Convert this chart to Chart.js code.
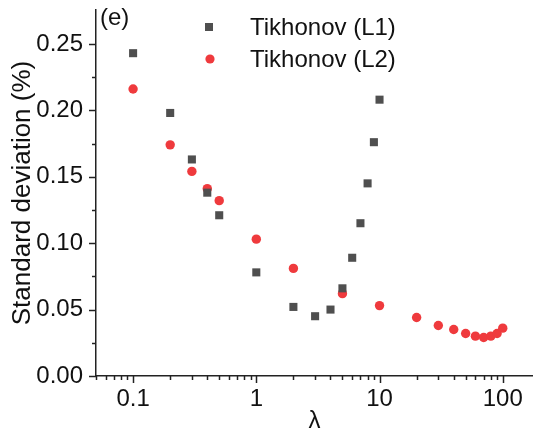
<!DOCTYPE html>
<html>
<head>
<meta charset="utf-8">
<script src="https://cdn.jsdelivr.net/npm/chart.js@4/dist/chart.umd.min.js"></script>
<style>
  html, body { margin: 0; padding: 0; background: #fff; overflow: hidden; }
  #wrap { width: 533px; height: 434px; }
</style>
</head>
<body>
<div id="wrap"><canvas id="sdChart" width="533" height="434"></canvas></div>
<script>
// lambda values and standard deviation (%)
const lambdaL1 = [0.1, 0.2, 0.3, 0.4, 0.5, 1, 2, 3, 4, 5, 6, 7, 8, 9, 10];
const sdL1 = [0.243, 0.198, 0.163, 0.138, 0.121, 0.078, 0.052, 0.045, 0.050, 0.066, 0.089, 0.115, 0.145, 0.176, 0.208];

const lambdaL2 = [0.1, 0.2, 0.3, 0.4, 0.5, 1, 2, 5, 10, 20, 30, 40, 50, 60, 70, 80, 90, 100];
const sdL2 = [0.216, 0.174, 0.154, 0.141, 0.132, 0.103, 0.081, 0.062, 0.053, 0.044, 0.038, 0.035, 0.032, 0.030, 0.029, 0.030, 0.032, 0.036];

const seriesNames = ["Tikhonov (L1)", "Tikhonov (L2)"];
const xTickLabels = [0.1, 1, 10, 100];
const yTickValues = [0, 0.025, 0.05, 0.075, 0.1, 0.125, 0.15, 0.175, 0.2, 0.225, 0.25];
const yMajorTicks = [0, 0.05, 0.1, 0.15, 0.2, 0.25];

const FONT = "'Liberation Sans', Arial, sans-serif";
const FSIZE = 24;
const AXIS = "#222";

const toPoints = (xs, ys) => xs.map((x, i) => ({ x: x, y: ys[i] }));
const isMajorY = (v) => yMajorTicks.some((m) => Math.abs(m - v) < 1e-9);

// outward major/minor tick marks, legend and panel letter
const extras = {
  id: "extras",
  afterDraw(chart) {
    const ctx = chart.ctx;
    const area = chart.chartArea;
    const xs = chart.scales.x;
    const ys = chart.scales.y;
    ctx.save();
    ctx.strokeStyle = AXIS;
    ctx.lineWidth = 1.5;

    // x ticks: every 1..9 x 10^k inside the range
    for (let k = -2; k <= 3; k++) {
      for (let m = 1; m <= 9; m++) {
        const v = m * Math.pow(10, k);
        if (v < xs.min * 0.999 || v > xs.max) continue;
        const px = Math.round(xs.getPixelForValue(v)) + 0.5;
        const len = m === 1 ? 7 : 4;
        ctx.beginPath();
        ctx.moveTo(px, area.bottom);
        ctx.lineTo(px, area.bottom + len);
        ctx.stroke();
      }
    }

    // y ticks
    yTickValues.forEach((v) => {
      const py = Math.round(ys.getPixelForValue(v)) + 0.5;
      const len = isMajorY(v) ? 7 : 4;
      ctx.beginPath();
      ctx.moveTo(area.left, py);
      ctx.lineTo(area.left - len, py);
      ctx.stroke();
    });

    // legend
    ctx.font = FSIZE + "px " + FONT;
    ctx.textBaseline = "middle";
    ctx.textAlign = "left";
    chart.data.datasets.forEach((ds, i) => {
      const ly = 27 + i * 32;
      ctx.fillStyle = ds.backgroundColor;
      if (ds.pointStyle === "rect") {
        ctx.fillRect(205, ly - 4, 8, 8);
      } else {
        ctx.beginPath();
        ctx.arc(210, ly, 4.6, 0, Math.PI * 2);
        ctx.fill();
      }
      ctx.fillStyle = "#111";
      ctx.fillText(ds.label, 250, ly + 1);
    });

    ctx.fillText("(e)", 100, 18);
    ctx.restore();
  },
};

new Chart(document.getElementById("sdChart"), {
  type: "scatter",
  data: {
    datasets: [
      {
        label: seriesNames[0],
        data: toPoints(lambdaL1, sdL1),
        pointStyle: "rect",
        pointRadius: 5.7,
        pointHoverRadius: 5.7,
        backgroundColor: "#4f4f4f",
        borderWidth: 0,
      },
      {
        label: seriesNames[1],
        data: toPoints(lambdaL2, sdL2),
        pointStyle: "circle",
        pointRadius: 4.7,
        pointHoverRadius: 4.7,
        backgroundColor: "#ef3a3d",
        borderWidth: 0,
      },
    ],
  },
  options: {
    responsive: false,
    animation: false,
    layout: {
      autoPadding: false,
      padding: { top: 10, right: 0, left: 0, bottom: 0 },
    },
    plugins: {
      legend: { display: false },
      tooltip: { enabled: false },
    },
    scales: {
      x: {
        type: "logarithmic",
        min: 0.05,
        max: 176,
        afterFit(scale) {
          scale.height = 58;
          scale.paddingLeft = 0;
          scale.paddingRight = 0;
        },
        grid: { display: false, drawTicks: false },
        border: { display: true, color: AXIS, width: 1.5 },
        ticks: {
          autoSkip: false,
          maxRotation: 0,
          padding: 9,
          color: "#111",
          font: { family: FONT, size: FSIZE },
          callback(value) {
            const v = Number(value.toPrecision(6));
            return xTickLabels.includes(v) ? String(v) : "";
          },
        },
        title: {
          display: true,
          text: "λ",
          color: "#111",
          font: { family: FONT, size: FSIZE },
          padding: { top: 0, bottom: -2 },
        },
      },
      y: {
        min: 0,
        max: 0.2755,
        afterBuildTicks(scale) {
          scale.ticks = yTickValues.map((v) => ({ value: v }));
        },
        afterFit(scale) {
          scale.width = 96;
          scale.paddingTop = 0;
          scale.paddingBottom = 0;
        },
        grid: { display: false, drawTicks: false },
        border: { display: true, color: AXIS, width: 1.5 },
        ticks: {
          autoSkip: false,
          padding: 13,
          color: "#111",
          font: { family: FONT, size: FSIZE },
          callback(value) {
            return isMajorY(value) ? value.toFixed(2) : "";
          },
        },
        title: {
          display: true,
          text: "Standard deviation (%)",
          color: "#111",
          font: { family: FONT, size: 26 },
          padding: { top: 7, bottom: 0 },
        },
      },
    },
  },
  plugins: [extras],
});
</script>
</body>
</html>
